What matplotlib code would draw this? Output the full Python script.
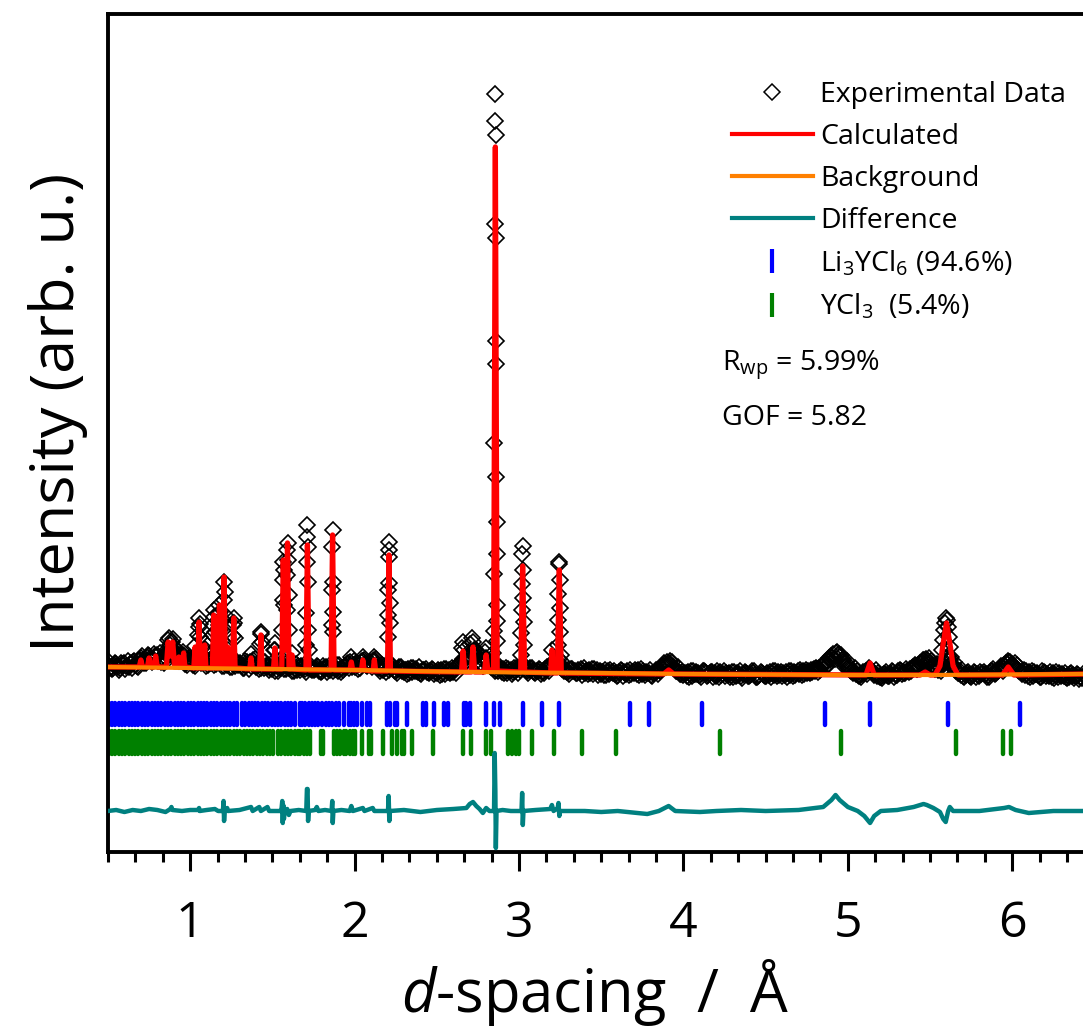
import numpy as np
import matplotlib
matplotlib.use('Agg')
import matplotlib.pyplot as plt
from matplotlib.lines import Line2D
from matplotlib.ticker import MultipleLocator, NullLocator

plt.rcParams['font.family'] = ['Open Sans', 'DejaVu Sans']
plt.rcParams['mathtext.fontset'] = 'custom'
plt.rcParams['mathtext.rm'] = 'Open Sans'
plt.rcParams['mathtext.it'] = 'Open Sans:italic'

# --- observed pattern: baseline samples on four interleaved d grids (arb. u.) ---
obs_base_d = np.linspace(0.5, 6.425, 238)
obs_base_i = [
    15, 11, 16, 12, 17, 13, 18, 14, 22, 19, 24, 21, 25, 18, 22, 30, 28, 20, 23, 17,
    19, 16, 24, 18, 20, 17, 22, 18, 21, 15, 19, 14, 17, 12, 16, 18, 13, 17, 12, 15,
    11, 15, 12, 16, 12, 14, 10, 14, 11, 14, 10, 13, 9, 13, 10, 14, 9, 12, 14, 18,
    13, 16, 19, 14, 17, 19, 12, 10, 13, 12, 9, 12, 8, 11, 8, 11, 7, 10, 7, 10,
    7, 10, 6, 10, 8, 13, 18, 22, 24, 30, 20, 16, 22, 15, 12, 9, 11, 7, 10, 9,
    12, 14, 9, 11, 7, 10, 7, 12, 16, 20, 14, 9, 8, 11, 7, 11, 7, 10, 6, 10,
    6, 10, 6, 9, 5, 9, 6, 10, 7, 10, 6, 8, 5, 8, 10, 14, 18, 15, 11, 8,
    5, 8, 4, 8, 5, 9, 5, 8, 4, 8, 4, 7, 3, 7, 4, 8, 4, 7, 3, 7,
    4, 8, 5, 8, 4, 8, 5, 8, 6, 9, 7, 10, 9, 12, 15, 19, 24, 27, 23, 17,
    12, 9, 6, 5, 7, 10, 8, 4, 3, 6, 4, 8, 5, 9, 7, 11, 13, 15, 18, 21,
    17, 14, 10, 16, 22, 16, 11, 7, 4, 7, 3, 7, 4, 8, 5, 9, 7, 11, 15, 19,
    16, 12, 8, 5, 8, 4, 7, 3, 7, 4, 7, 3, 6, 3, 6, 2, 5, 2,
]
obs_mid_d = np.linspace(0.5125, 6.4375, 238)
obs_mid_i = [
    12, 15, 13, 16, 14, 17, 15, 19, 20, 23, 21, 24, 20, 21, 27, 31, 23, 22, 19, 20,
    18, 21, 20, 21, 18, 20, 19, 21, 17, 18, 16, 17, 14, 15, 18, 15, 16, 14, 14, 12,
    14, 12, 15, 13, 14, 11, 13, 12, 13, 11, 12, 10, 12, 11, 13, 11, 11, 13, 17, 15,
    15, 18, 16, 16, 19, 15, 11, 12, 12, 10, 11, 9, 10, 9, 10, 8, 9, 8, 9, 8,
    9, 8, 9, 8, 11, 16, 20, 24, 28, 25, 17, 19, 19, 13, 10, 11, 9, 9, 8, 11,
    13, 11, 10, 9, 9, 8, 10, 14, 18, 17, 11, 9, 10, 9, 9, 9, 9, 8, 8, 8,
    8, 8, 8, 7, 7, 8, 8, 8, 9, 8, 7, 7, 7, 9, 12, 16, 17, 13, 9, 6,
    7, 6, 6, 7, 7, 7, 7, 6, 6, 6, 6, 5, 5, 6, 6, 6, 6, 5, 5, 5,
    6, 7, 6, 6, 6, 7, 7, 7, 8, 8, 8, 10, 11, 13, 17, 22, 26, 25, 20, 14,
    10, 8, 5, 6, 9, 9, 6, 4, 5, 5, 6, 6, 7, 8, 9, 12, 14, 17, 20, 19,
    15, 12, 13, 19, 19, 13, 9, 5, 6, 5, 5, 6, 6, 6, 7, 8, 9, 13, 17, 18,
    14, 10, 7, 6, 6, 6, 5, 5, 6, 5, 5, 5, 4, 5, 4, 4, 3, 4,
]
obs_q1_d = np.linspace(0.50625, 6.43125, 238)
obs_q1_i = [
    18, 12, 14, 17, 11, 16, 19, 13, 24, 17, 20, 26, 19, 23, 25, 27, 32, 19, 25, 15,
    21, 14, 19, 23, 15, 21, 16, 23, 14, 20, 13, 18, 15, 19, 11, 20, 15, 12, 18, 10,
    14, 9, 16, 11, 15, 9, 14, 12, 8, 15, 11, 9, 14, 8, 13, 11, 15, 10, 16, 13,
    17, 12, 20, 16, 13, 21, 9, 14, 10, 14, 7, 13, 10, 7, 12, 9, 6, 11, 9, 6,
    10, 6, 11, 7, 10, 15, 21, 19, 27, 24, 26, 14, 19, 13, 9, 13, 7, 11, 6, 12,
    10, 15, 7, 12, 9, 6, 11, 9, 18, 17, 19, 11, 6, 9, 10, 5, 9, 7, 11, 5,
    8, 5, 10, 6, 8, 4, 9, 6, 10, 5, 9, 7, 4, 10, 9, 17, 15, 18, 9, 6,
    7, 3, 9, 6, 3, 8, 6, 3, 9, 5, 7, 3, 8, 5, 2, 7, 5, 9, 4, 6,
    7, 3, 9, 5, 7, 3, 9, 5, 10, 6, 9, 8, 12, 10, 17, 16, 22, 28, 25, 13,
    14, 7, 9, 3, 8, 12, 5, 7, 2, 8, 6, 3, 9, 6, 11, 9, 15, 12, 20, 17,
    19, 11, 14, 18, 24, 13, 9, 9, 3, 8, 5, 3, 8, 6, 3, 11, 9, 14, 13, 18,
    13, 15, 6, 9, 3, 8, 5, 9, 4, 8, 2, 7, 5, 2, 7, 4, 1, 6,
]
obs_q3_d = np.linspace(0.51875, 6.44375, 238)
obs_q3_i = [
    13, 17, 10, 15, 19, 12, 16, 20, 17, 25, 18, 23, 27, 17, 29, 24, 26, 24, 16, 22,
    15, 22, 17, 14, 24, 15, 20, 14, 22, 13, 21, 15, 12, 18, 14, 21, 11, 19, 13, 16,
    9, 16, 11, 13, 9, 16, 10, 15, 12, 10, 14, 8, 11, 14, 9, 15, 8, 14, 12, 19,
    11, 19, 15, 18, 20, 13, 15, 8, 15, 9, 13, 10, 6, 12, 9, 13, 10, 8, 11, 8,
    5, 11, 8, 12, 7, 17, 18, 25, 21, 29, 17, 21, 15, 17, 14, 8, 12, 9, 12, 7,
    14, 10, 12, 8, 11, 9, 13, 14, 19, 21, 12, 8, 11, 7, 8, 12, 6, 11, 8, 9,
    5, 9, 7, 4, 10, 7, 5, 8, 6, 11, 5, 10, 7, 6, 12, 13, 19, 12, 13, 8,
    4, 9, 6, 5, 9, 4, 8, 7, 3, 9, 5, 8, 4, 9, 6, 4, 9, 3, 8, 4,
    5, 9, 4, 8, 5, 9, 4, 9, 5, 10, 7, 11, 8, 14, 13, 20, 21, 26, 21, 19,
    9, 12, 4, 8, 6, 8, 10, 3, 6, 4, 9, 5, 10, 7, 8, 13, 11, 17, 16, 22,
    14, 16, 9, 12, 20, 18, 7, 10, 5, 4, 8, 5, 7, 3, 9, 6, 11, 9, 17, 15,
    17, 9, 10, 4, 9, 6, 3, 8, 5, 3, 8, 4, 7, 3, 5, 6, 3, 5,
]

# observed points across the Bragg peaks (d in Å, intensity)
obs_peak_pts = [
    (0.862, 30), (0.868, 40), (0.874, 42), (0.880, 35), (0.888, 38), (0.894, 41), (0.900, 33), (0.906, 26),
    (0.931, 25), (0.958, 28), (0.962, 24), (1.030, 34),
    (1.050, 45), (1.052, 53), (1.054, 62), (1.057, 56), (1.060, 43),
    (1.085, 30), (1.088, 37), (1.091, 31),
    (1.138, 45), (1.140, 55), (1.143, 70), (1.146, 63), (1.149, 48),
    (1.174, 55), (1.176, 66), (1.178, 75), (1.181, 68), (1.184, 50),
    (1.201, 60), (1.203, 80), (1.206, 98), (1.209, 88), (1.212, 65),
    (1.228, 30),
    (1.261, 44), (1.263, 55), (1.265, 62), (1.268, 57), (1.271, 42),
    (1.370, 26),
    (1.426, 36), (1.429, 46), (1.432, 48), (1.435, 38),
    (1.512, 30), (1.515, 37), (1.518, 30),
    (1.560, 50), (1.562, 80), (1.564, 100), (1.566, 118), (1.569, 110), (1.572, 75),
    (1.587, 70), (1.589, 105), (1.591, 130), (1.593, 137), (1.595, 120), (1.598, 85), (1.601, 50),
    (1.620, 27),
    (1.705, 35), (1.707, 67), (1.709, 118), (1.711, 143), (1.713, 155), (1.715, 133), (1.717, 98), (1.719, 50), (1.721, 30),
    (1.861, 55), (1.863, 90), (1.864, 133), (1.866, 150), (1.868, 98), (1.869, 68), (1.871, 48),
    (1.980, 23), (2.050, 23), (2.120, 23),
    (2.203, 43), (2.205, 65), (2.206, 90), (2.207, 123), (2.209, 138), (2.211, 130), (2.212, 97), (2.213, 77), (2.215, 57),
    (2.655, 32), (2.660, 38), (2.665, 30), (2.700, 36), (2.715, 42), (2.722, 38), (2.730, 30), (2.795, 28), (2.800, 32),
    (2.844, 27), (2.846, 49), (2.848, 106), (2.850, 237), (2.852, 456), (2.854, 559), (2.856, 586),
    (2.858, 545), (2.859, 442), (2.860, 339), (2.861, 316), (2.862, 203), (2.863, 158), (2.864, 126),
    (2.865, 75), (2.866, 59), (2.868, 39),
    (3.013, 25), (3.015, 47), (3.017, 70), (3.019, 96), (3.020, 126), (3.022, 134),
    (3.024, 110), (3.026, 82), (3.028, 58), (3.030, 35),
    (3.200, 30),
    (3.236, 35), (3.238, 60), (3.240, 86), (3.243, 118), (3.245, 116), (3.247, 100),
    (3.249, 72), (3.251, 48), (3.254, 25),
    (5.565, 17), (5.572, 30), (5.578, 40), (5.584, 50), (5.590, 57), (5.597, 62),
    (5.604, 60), (5.611, 53), (5.617, 43), (5.623, 33), (5.630, 23), (5.637, 15),
]

# calculated profile vertices (d, intensity)
calc_profile = [
    (0.50, 13),
    (0.69, 13), (0.70, 20), (0.71, 13),
    (0.74, 13), (0.75, 22), (0.76, 13),
    (0.78, 13), (0.79, 24), (0.80, 13),
    (0.855, 13), (0.866, 38), (0.872, 30), (0.880, 24), (0.894, 38), (0.905, 13),
    (0.925, 13), (0.931, 23), (0.937, 13),
    (0.952, 13), (0.960, 27), (0.968, 13),
    (1.022, 12), (1.030, 33), (1.038, 12),
    (1.046, 12), (1.054, 58), (1.062, 12),
    (1.080, 12), (1.088, 35), (1.096, 12),
    (1.135, 12), (1.143, 65), (1.151, 12),
    (1.170, 12), (1.178, 75), (1.186, 12),
    (1.198, 12), (1.206, 103), (1.214, 12),
    (1.222, 12), (1.228, 33), (1.234, 12),
    (1.257, 12), (1.265, 62), (1.273, 12),
    (1.362, 11), (1.370, 22), (1.378, 11),
    (1.422, 11), (1.430, 45), (1.438, 11),
    (1.507, 11), (1.515, 32), (1.523, 11),
    (1.557, 11), (1.566, 120), (1.579, 30), (1.592, 137), (1.601, 11),
    (1.613, 11), (1.620, 25), (1.627, 11),
    (1.704, 10), (1.713, 135), (1.722, 10),
    (1.857, 10), (1.866, 145), (1.875, 10),
    (1.972, 10), (1.980, 18), (1.988, 10),
    (2.042, 10), (2.050, 20), (2.058, 10),
    (2.112, 9), (2.120, 20), (2.128, 9),
    (2.200, 9), (2.209, 125), (2.218, 9),
    (2.650, 8), (2.660, 29), (2.670, 8),
    (2.710, 8), (2.720, 33), (2.730, 8),
    (2.790, 8), (2.800, 25), (2.810, 10),
    (2.845, 10), (2.856, 533), (2.867, 9),
    (3.010, 8), (3.022, 114), (3.034, 8),
    (3.192, 7), (3.200, 30), (3.208, 7),
    (3.233, 7), (3.245, 110), (3.257, 7),
    (3.88, 6), (3.91, 10), (3.94, 6),
    (5.11, 5), (5.135, 17), (5.16, 5),
    (5.44, 5), (5.47, 8), (5.50, 5),
    (5.53, 5), (5.56, 14), (5.58, 37), (5.60, 57), (5.62, 37), (5.64, 14), (5.67, 5),
    (5.94, 5), (5.975, 13), (6.01, 5),
    (6.45, 6),
]

# refined background
bkg_d = [0.5, 1.0, 1.5, 2.0, 2.5, 3.0, 3.5, 4.0, 4.5, 5.0, 5.5, 6.0, 6.45]
bkg_i = [13, 12, 11, 10, 8.5, 7.5, 7, 6, 5.5, 5, 5, 5.5, 6]

# difference curve (obs - calc)
diff_profile = [
    (0.50, 0), (0.55, 1), (0.60, -1), (0.65, 1), (0.70, 0), (0.75, 2), (0.80, 1), (0.85, -1),
    (0.88, 2), (0.886, 4), (0.892, 1), (0.95, 0), (1.00, 1),
    (1.05, 1), (1.054, 3), (1.058, 0), (1.10, 1), (1.15, 2), (1.17, 0),
    (1.199, 0), (1.203, 10), (1.206, -10), (1.210, 0), (1.22, 1), (1.225, 3), (1.23, 0),
    (1.30, 1), (1.37, 4), (1.38, 0), (1.42, 4), (1.43, 0), (1.47, 4), (1.48, 0),
    (1.55, 0), (1.556, 3), (1.560, 10), (1.563, -12), (1.566, 6), (1.570, -8), (1.575, 0),
    (1.59, 2), (1.60, -4), (1.61, 0), (1.66, 1),
    (1.706, 0), (1.710, 22), (1.714, 22), (1.717, -10), (1.721, 0),
    (1.76, 1), (1.77, 4), (1.78, 0), (1.82, 1),
    (1.860, 0), (1.864, 10), (1.867, -12), (1.871, 0), (1.92, 1),
    (1.97, 0), (1.98, 5), (1.99, 0), (2.05, 3), (2.06, 0), (2.11, 3), (2.12, 0),
    (2.203, 0), (2.207, 15), (2.211, -10), (2.215, 0),
    (2.30, 1), (2.40, -1), (2.50, 1), (2.60, 2), (2.68, 3), (2.70, 7), (2.72, 9), (2.74, 5),
    (2.76, 2), (2.78, -2), (2.80, 3), (2.82, 0),
    (2.848, 0), (2.852, 58), (2.856, 20), (2.859, -37), (2.863, 0),
    (2.90, 1), (2.95, 0),
    (3.015, 0), (3.019, 18), (3.023, -14), (3.027, 0),
    (3.10, 1), (3.19, 2), (3.20, 6), (3.21, 0), (3.235, 3), (3.24, 8), (3.245, -5), (3.25, 0),
    (3.40, 0), (3.50, -1), (3.60, 0), (3.78, -3), (3.85, 0), (3.91, 5), (3.95, 0),
    (4.10, -1), (4.20, 0), (4.35, 1), (4.50, 0), (4.70, 1), (4.85, 4), (4.90, 11), (4.925, 16), (4.95, 11), (5.00, 4),
    (5.06, 0), (5.10, -5), (5.135, -12), (5.16, -5), (5.20, 0),
    (5.30, 1), (5.40, 4), (5.46, 7), (5.48, 6), (5.52, 3), (5.56, -1), (5.58, -8), (5.595, -11),
    (5.61, 0), (5.62, 4), (5.64, 0),
    (5.80, 0), (5.95, 3), (5.98, 4), (6.02, 1), (6.10, -2), (6.25, 0), (6.45, 0),
]

# reflection positions (Å)
li3ycl6_refl = [
    0.505, 0.525, 0.545, 0.565, 0.585, 0.605, 0.625, 0.645, 0.665, 0.685,
    0.705, 0.725, 0.745, 0.765, 0.785, 0.805, 0.825, 0.845, 0.865, 0.885,
    0.905, 0.925, 0.945, 0.965, 0.985, 1.005, 1.025, 1.045, 1.065, 1.085,
    1.105, 1.125, 1.145, 1.165, 1.185, 1.205, 1.225, 1.245, 1.265, 1.285,
    1.315, 1.335, 1.355, 1.375, 1.395, 1.415, 1.435, 1.455, 1.475, 1.495, 1.515,
    1.535, 1.555, 1.575, 1.595, 1.615, 1.640, 1.665, 1.680, 1.700, 1.720,
    1.740, 1.760, 1.780, 1.800, 1.825, 1.845, 1.865, 1.885, 1.905, 1.935,
    1.965, 1.980, 1.995, 2.015, 2.045, 2.075, 2.095, 2.200, 2.215, 2.245,
    2.260, 2.320, 2.415, 2.435, 2.480, 2.545, 2.565, 2.665, 2.680, 2.700,
    2.800, 2.847, 2.883, 3.023, 3.141, 3.241, 3.675, 3.790, 4.113, 4.858,
    5.137, 5.608, 6.047,
]
ycl3_refl = [
    0.505, 0.525, 0.545, 0.565, 0.585, 0.605, 0.625, 0.645, 0.665, 0.685,
    0.705, 0.725, 0.745, 0.765, 0.785, 0.805, 0.825, 0.845, 0.865, 0.885,
    0.905, 0.925, 0.945, 0.965, 0.985, 1.005, 1.025, 1.045, 1.065, 1.085,
    1.105, 1.125, 1.145, 1.165, 1.185, 1.205, 1.225, 1.245, 1.265, 1.285,
    1.305, 1.325, 1.345, 1.365, 1.385, 1.405, 1.425, 1.445, 1.465, 1.485, 1.505,
    1.535, 1.555, 1.575, 1.595, 1.615, 1.635, 1.655, 1.670, 1.690, 1.710,
    1.730, 1.795, 1.810, 1.875, 1.890, 1.910, 1.935, 1.945, 1.975, 1.990,
    2.005, 2.045, 2.085, 2.100, 2.170, 2.230, 2.255, 2.290, 2.300, 2.350,
    2.475, 2.660, 2.710, 2.800, 2.830, 2.930, 2.960, 2.980, 3.000, 3.077,
    3.210, 3.380, 3.590, 4.220, 4.960, 5.655, 5.946, 5.993,
]

phase_labels = ['Li$_3$YCl$_6$ (94.6%)', 'YCl$_3$  (5.4%)']
fit_stats = ['R$_{\\mathrm{wp}}$ = 5.99%', 'GOF = 5.82']

obs_pk_d, obs_pk_i = np.array(obs_peak_pts).T
obs_d = np.concatenate([obs_base_d, obs_q1_d, obs_mid_d, obs_q3_d, obs_pk_d])
obs_i = np.concatenate([obs_base_i, obs_q1_i, obs_mid_i, obs_q3_i, obs_pk_i])
calc_d, calc_i = np.array(calc_profile).T
diff_d, diff_i = np.array(diff_profile).T

diff_offset = -131
leg_fs = 20.5

fig = plt.figure(figsize=(10.83, 10.27), dpi=100)
ax = fig.add_axes([0.0997, 0.1704, 0.9003, 0.8160])

ax.plot(obs_d, obs_i, ls='none', marker='D', ms=8.5, mfc='none', mec='black',
        mew=1.2, zorder=2)
ax.plot(calc_d, calc_i, color='#ff0000', lw=3.8, zorder=3, solid_joinstyle='round')
ax.plot(bkg_d, bkg_i, color='#ff8000', lw=3.0, zorder=4)
ax.plot(diff_d, diff_i + diff_offset, color='#008080', lw=3.2, zorder=3,
        solid_joinstyle='round')

v1 = ax.vlines(li3ycl6_refl, -23, -45, color='#0000ff', lw=3.2)
v2 = ax.vlines(ycl3_refl, -51, -74, color='#008000', lw=3.2)
v1.set_capstyle('round')
v2.set_capstyle('round')

ax.set_xlim(0.5, 6.43)
ax.set_ylim(-172, 666)

for s in ['left', 'top', 'bottom']:
    ax.spines[s].set_linewidth(2.8)
ax.spines['right'].set_visible(False)

ax.xaxis.set_major_locator(MultipleLocator(1))
ax.xaxis.set_minor_locator(MultipleLocator(1 / 6))
ax.yaxis.set_major_locator(NullLocator())
ax.tick_params(axis='x', which='major', length=14, width=2.2, labelsize=36, pad=20)
ax.tick_params(axis='x', which='minor', length=7, width=2.2)
ax.tick_params(top=False, right=False)

ax.set_xlabel('$\\mathit{d}$-spacing  /  Å', fontsize=43, labelpad=6)
ax.set_ylabel('Intensity (arb. u.)', fontsize=44)
ax.yaxis.set_label_coords(-0.02, 0.524)

handles = [
    Line2D([], [], ls='none', marker='D', ms=8.5, mfc='none', mec='black', mew=1.1),
    Line2D([], [], color='#ff0000', lw=3.0),
    Line2D([], [], color='#ff8000', lw=3.0),
    Line2D([], [], color='#008080', lw=3.0),
    Line2D([], [], ls='none', marker='|', ms=17, mew=3, color='#0000ff'),
    Line2D([], [], ls='none', marker='|', ms=17, mew=3, color='#008000'),
]
labels = ['Experimental Data', 'Calculated', 'Background', 'Difference'] + phase_labels
ax.legend(handles, labels, loc='upper left', bbox_to_anchor=(732 / 1083, 1 - 81 / 1027),
          bbox_transform=fig.transFigure, frameon=False, fontsize=leg_fs,
          handlelength=2.84, handletextpad=0.25, labelspacing=0.49, borderpad=0,
          borderaxespad=0)

ax.text(722 / 1083, 1 - 365 / 1027, fit_stats[0], transform=fig.transFigure,
        fontsize=leg_fs, va='center', ha='left')
ax.text(722 / 1083, 1 - 418 / 1027, fit_stats[1], transform=fig.transFigure,
        fontsize=leg_fs, va='center', ha='left')

fig.savefig('out.png', dpi=100)
